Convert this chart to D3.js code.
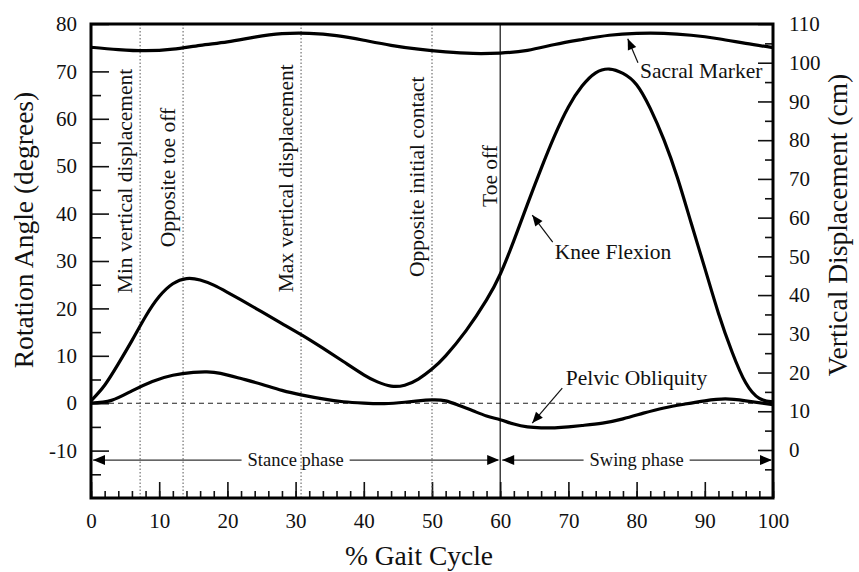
<!DOCTYPE html>
<html>
<head>
<meta charset="utf-8">
<script src="https://cdn.jsdelivr.net/npm/d3@7/dist/d3.min.js"></script>
<style>
  body { margin: 0; background: #fff; }
  svg { font-family: "Liberation Serif", "Times New Roman", serif; }
</style>
</head>
<body>
<svg id="chart" width="859" height="572"></svg>
<script>
// values
const kneePct = [0, 2, 4, 6, 8, 10, 12, 14, 16, 18, 20, 22, 25, 28, 31, 34, 37, 40, 42, 44, 46, 48, 50, 52, 55, 58, 60, 62, 64, 66, 68, 70, 72, 74, 76, 78, 80, 82, 84, 86, 88, 90, 92, 94, 96, 98, 100];
const kneeDeg = [0.5, 3.8, 8.3, 13.2, 18.3, 22.5, 25.2, 26.3, 26.0, 24.9, 23.4, 21.8, 19.3, 16.8, 14.3, 11.6, 8.8, 6.0, 4.5, 3.6, 3.8, 5.1, 7.2, 10.0, 15.3, 21.8, 27.2, 34.3, 42.0, 49.5, 56.5, 62.5, 66.9, 69.7, 70.5, 69.6, 67.2, 62.2, 55.6, 47.5, 38.0, 28.5, 19.0, 10.8, 4.3, 1.0, 0.3];

const pelvicPct = [0, 3, 6, 9, 12, 15, 17, 19, 22, 25, 28, 31, 34, 37, 40, 43, 46, 48, 50, 52, 54, 56, 58, 60, 62, 64, 66, 68, 70, 72, 75, 78, 81, 84, 87, 90, 93, 96, 100];
const pelvicDeg = [0, 0.6, 2.6, 4.6, 5.9, 6.5, 6.6, 6.3, 5.2, 4.0, 2.7, 1.7, 0.9, 0.3, 0, -0.1, 0.2, 0.5, 0.7, 0.5, -0.5, -1.6, -2.7, -3.5, -4.4, -5.0, -5.2, -5.2, -5.0, -4.7, -4.2, -3.3, -2.1, -1.0, -0.2, 0.5, 0.9, 0.5, -0.3];

const sacralPct = [0, 4, 8, 12, 16, 20, 24, 28, 32, 36, 40, 44, 48, 52, 56, 60, 64, 68, 72, 76, 80, 84, 88, 92, 96, 100];
const sacralCm = [104.0, 103.4, 103.1, 103.5, 104.5, 105.4, 106.6, 107.5, 107.6, 107.0, 105.8, 104.5, 103.5, 102.8, 102.4, 102.5, 103.2, 104.7, 106.0, 107.1, 107.6, 107.6, 107.1, 106.2, 105.0, 103.9];

const eventPct = [7.2, 13.5, 30.8, 50, 60];
const eventLabels = ['Min vertical displacement', 'Opposite toe off', 'Max vertical displacement', 'Opposite initial contact', 'Toe off'];

const phaseNames = ['Stance phase', 'Swing phase'];
const phaseBounds = [[0, 60], [60, 100]];

const xTicks = [0, 10, 20, 30, 40, 50, 60, 70, 80, 90, 100];
const leftTicks = [-10, 0, 10, 20, 30, 40, 50, 60, 70, 80];
const rightTicks = [0, 10, 20, 30, 40, 50, 60, 70, 80, 90, 100, 110];

// layout
const margin = { top: 24, right: 86, bottom: 74, left: 91 };
const width = 859 - margin.left - margin.right;
const height = 572 - margin.top - margin.bottom;

const x = d3.scaleLinear().domain([0, 100]).range([0, width]);
const yL = d3.scaleLinear().domain([-20, 80]).range([height, 0]);
const yR = d3.scaleLinear().domain([-12.4, 110]).range([height, 0]);

const svg = d3.select('#chart');
const g = svg.append('g').attr('transform', `translate(${margin.left},${margin.top})`);

// minor ticks
g.append('g').attr('transform', `translate(0,${height})`)
  .call(d3.axisBottom(x).tickValues(d3.range(0, 101, 2)).tickSize(-7).tickFormat(''))
  .call(s => s.select('.domain').remove());
g.append('g')
  .call(d3.axisLeft(yL).tickValues(d3.range(-15, 80, 10)).tickSize(-10).tickFormat(''))
  .call(s => s.select('.domain').remove());
g.append('g').attr('transform', `translate(${width},0)`)
  .call(d3.axisRight(yR).tickValues(d3.range(-5, 110, 10)).tickSize(-8).tickFormat(''))
  .call(s => s.select('.domain').remove());

// major ticks
const plain = d => String(d);
const xAxis = g.append('g').attr('transform', `translate(0,${height})`)
  .call(d3.axisBottom(x).tickValues(xTicks).tickFormat(plain).tickSizeInner(-16).tickSizeOuter(0).tickPadding(15));
const leftAxis = g.append('g')
  .call(d3.axisLeft(yL).tickValues(leftTicks).tickFormat(plain).tickSizeInner(-18).tickSizeOuter(0).tickPadding(14));
const rightAxis = g.append('g').attr('transform', `translate(${width},0)`)
  .call(d3.axisRight(yR).tickValues(rightTicks).tickFormat(plain).tickSizeInner(-15).tickSizeOuter(0).tickPadding(16));

[xAxis, leftAxis, rightAxis].forEach(a => {
  a.select('.domain').remove();
  a.selectAll('text').attr('font-size', 21).attr('font-family', '"Liberation Serif", serif').attr('fill', '#111');
});
g.selectAll('.tick line').attr('stroke', '#111').attr('stroke-width', 1.6);

// zero line
g.append('line')
  .attr('x1', 0).attr('x2', width)
  .attr('y1', yL(0)).attr('y2', yL(0))
  .attr('stroke', '#222').attr('stroke-width', 1.1).attr('stroke-dasharray', '5,4');

// event lines + labels
const labelBottom = [23.2, 32.9, 23.4, 26.6, 41.4];
eventPct.forEach((p, i) => {
  const solid = i === eventPct.length - 1;
  g.append('line')
    .attr('x1', x(p)).attr('x2', x(p))
    .attr('y1', 0).attr('y2', height)
    .attr('stroke', solid ? '#111' : '#555')
    .attr('stroke-width', solid ? 1.2 : 1)
    .attr('stroke-dasharray', solid ? null : '1.5,2');
  g.append('text')
    .attr('transform', `translate(${x(p) - (solid ? 3 : 8)},${yL(labelBottom[i])}) rotate(-90)`)
    .attr('font-size', 21.5)
    .attr('fill', '#111')
    .text(eventLabels[i]);
});

// curves
const curve = d3.curveNatural;
function drawSeries(px, py, ys) {
  g.append('path')
    .datum(px.map((p, i) => [p, py[i]]))
    .attr('fill', 'none')
    .attr('stroke', '#000')
    .attr('stroke-width', 3.2)
    .attr('stroke-linejoin', 'round')
    .attr('d', d3.line().x(d => x(d[0])).y(d => ys(d[1])).curve(curve));
}
drawSeries(kneePct, kneeDeg, yL);
drawSeries(pelvicPct, pelvicDeg, yL);
drawSeries(sacralPct, sacralCm, yR);

// arrowheads
function head(tx, ty, fx, fy, len, half) {
  const a = Math.atan2(ty - fy, tx - fx);
  const bx = tx - len * Math.cos(a), by = ty - len * Math.sin(a);
  const nx = -Math.sin(a) * half, ny = Math.cos(a) * half;
  g.append('path')
    .attr('d', `M${tx},${ty}L${bx + nx},${by + ny}L${bx - nx},${by - ny}Z`)
    .attr('fill', '#000');
}

// phase arrows
const phaseY = yL(-12);
phaseNames.forEach((name, i) => {
  const [a, b] = phaseBounds[i];
  const t = g.append('text')
    .attr('x', x((a + b) / 2)).attr('y', phaseY)
    .attr('dy', '0.33em')
    .attr('text-anchor', 'middle')
    .attr('font-size', 18.5)
    .attr('fill', '#111')
    .text(name);
  const w = t.node().getComputedTextLength();
  const cx = x((a + b) / 2);
  g.append('line').attr('x1', x(a) + 2).attr('x2', cx - w / 2 - 6)
    .attr('y1', phaseY).attr('y2', phaseY).attr('stroke', '#333').attr('stroke-width', 1.1);
  g.append('line').attr('x1', cx + w / 2 + 6).attr('x2', x(b) - 2)
    .attr('y1', phaseY).attr('y2', phaseY).attr('stroke', '#333').attr('stroke-width', 1.1);
  head(x(a) + 2, phaseY, x(a) + 20, phaseY, 12, 5);
  head(x(b) - 1, phaseY, x(b) - 20, phaseY, 12, 5);
});

// annotations
const notes = [
  { text: 'Sacral Marker', tip: [78.7, 106.2], tail: [80.2, 100.0], at: [80.5, 96.1], ys: yR },
  { text: 'Knee Flexion', tip: [64.7, 39.7], tail: [67.7, 34.0], at: [68.0, 30.4], ys: yL },
  { text: 'Pelvic Obliquity', tip: [64.7, -4.2], tail: [69.1, 3.2], at: [69.6, 3.8], ys: yL }
];
notes.forEach(n => {
  const tx = x(n.tip[0]), ty = n.ys(n.tip[1]);
  const fx = x(n.tail[0]), fy = n.ys(n.tail[1]);
  g.append('line').attr('x1', fx).attr('y1', fy).attr('x2', tx).attr('y2', ty)
    .attr('stroke', '#111').attr('stroke-width', 1.2);
  head(tx, ty, fx, fy, 11, 4.5);
  g.append('text')
    .attr('x', x(n.at[0])).attr('y', n.ys(n.at[1]))
    .attr('font-size', 21.5)
    .attr('fill', '#111')
    .text(n.text);
});

// frame
g.append('rect')
  .attr('width', width).attr('height', height)
  .attr('fill', 'none').attr('stroke', '#000').attr('stroke-width', 3);

// axis titles
svg.append('text')
  .attr('transform', `translate(33,230) rotate(-90)`)
  .attr('text-anchor', 'middle')
  .attr('font-size', 27.5)
  .attr('fill', '#111')
  .text('Rotation Angle (degrees)');
svg.append('text')
  .attr('transform', `translate(847,225) rotate(-90)`)
  .attr('text-anchor', 'middle')
  .attr('font-size', 27.5)
  .attr('fill', '#111')
  .text('Vertical Displacement (cm)');
svg.append('text')
  .attr('x', 419).attr('y', 565)
  .attr('text-anchor', 'middle')
  .attr('font-size', 27.5)
  .attr('fill', '#111')
  .text('% Gait Cycle');
</script>
</body>
</html>
